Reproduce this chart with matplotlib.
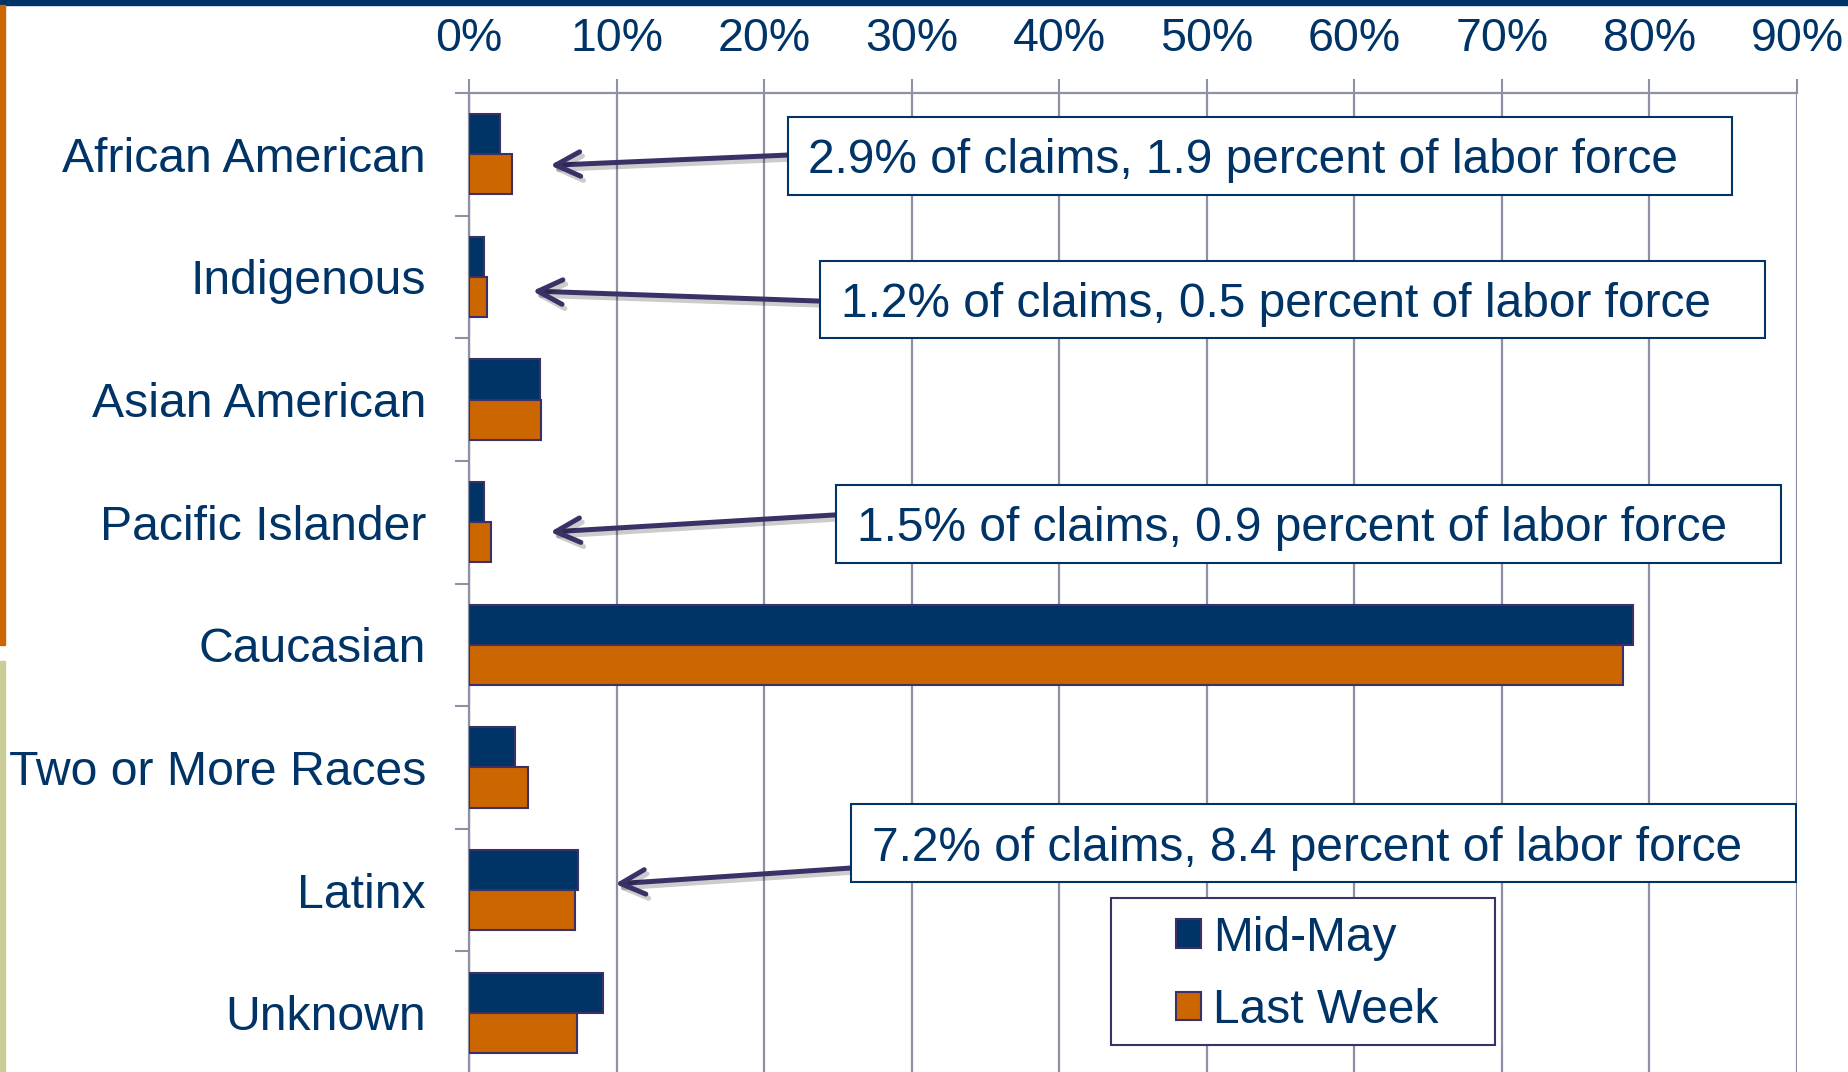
import numpy as np
import matplotlib.pyplot as plt
import matplotlib.patheffects as pe
from matplotlib.patches import Rectangle
from matplotlib.ticker import FuncFormatter

plt.rcParams['font.family'] = ['Liberation Sans', 'DejaVu Sans']

categories = ['African American', 'Indigenous', 'Asian American', 'Pacific Islander',
              'Caucasian', 'Two or More Races', 'Latinx', 'Unknown']
mid_may = [2.1, 1.0, 4.8, 1.0, 78.9, 3.1, 7.4, 9.1]
last_week = [2.9, 1.2, 4.9, 1.5, 78.2, 4.0, 7.2, 7.3]
series_names = ['Mid-May', 'Last Week']

notes = ['2.9% of claims, 1.9 percent of labor force',
         '1.2% of claims, 0.5 percent of labor force',
         '1.5% of claims, 0.9 percent of labor force',
         '7.2% of claims, 8.4 percent of labor force']
note_rows = [0, 1, 3, 6]

navy = '#003366'
orange = '#cc6600'
olive = '#cccc99'
grid_col = '#8e90a6'
edge_col = '#3b3167'
arrow_col = '#3a3166'

W, H = 1849, 1072
fig = plt.figure(figsize=(W / 100, H / 100), dpi=100)
# axes spans px 469..1797 horizontally, 93..1074 vertically
ax = fig.add_axes([469 / W, (H - 1074) / H, (1797 - 469) / W, (1074 - 93) / H])

# slide decorations
fig.patches.append(Rectangle((0, 1 - 5 / H), 1, 5 / H, transform=fig.transFigure,
                             color=navy, zorder=0))
fig.patches.append(Rectangle((0, (H - 645) / H), 5 / W, 640 / H, transform=fig.transFigure,
                             color=orange, zorder=0))
fig.patches.append(Rectangle((0, 0), 5 / W, (H - 661) / H, transform=fig.transFigure,
                             color=olive, zorder=0))

y = np.arange(len(categories))
bh = 0.327
ax.barh(y - bh / 2, mid_may, height=bh, color=navy, edgecolor=edge_col, lw=1.5,
        label=series_names[0], zorder=3)
ax.barh(y + bh / 2, last_week, height=bh, color=orange, edgecolor=edge_col, lw=1.5,
        label=series_names[1], zorder=3)

ax.set_xlim(0, 90)
ax.set_ylim(len(categories) - 0.5, -0.5)

ax.xaxis.tick_top()
ax.set_xticks(np.arange(0, 91, 10))
ax.xaxis.set_major_formatter(FuncFormatter(lambda v, p: f'{v:.0f}%'))
ax.tick_params(axis='x', length=10, width=1.5, color=grid_col, pad=13,
               labelsize=33.5, labelcolor=navy)
ax.grid(axis='x', color=grid_col, lw=1.6, zorder=0)

ax.set_yticks(np.arange(-0.5, len(categories), 1))
ax.set_yticklabels([])
ax.set_yticks(y, minor=True)
ax.set_yticklabels(categories, minor=True)
ax.tick_params(axis='y', which='major', length=10, width=1.5, color=grid_col)
ax.tick_params(axis='y', which='minor', length=0, pad=31, labelsize=34.7, labelcolor=navy)

for s in ['right', 'bottom']:
    ax.spines[s].set_visible(False)
for s in ['left', 'top']:
    ax.spines[s].set_color(grid_col)
    ax.spines[s].set_linewidth(1.6)

# callouts: (head x, head dy, box left x, box dy, tail dy)
heads_x = [5.5, 4.3, 5.5, 9.9]
heads_dy = [0.09, 0.115, 0.08, -0.05]
box_x = [21.6, 23.8, 24.9, 25.9]
box_dy = [0.014, 0.184, 0.011, -0.38]
tail_dy = [0.006, 0.197, -0.06, -0.18]
box_w = 64.0
box_h = 0.636

for k, txt in enumerate(notes):
    r = note_rows[k]
    cy = r + box_dy[k]
    ax.add_patch(Rectangle((box_x[k], cy - box_h / 2), box_w, box_h, facecolor='white',
                           edgecolor=navy, lw=1.5, zorder=5))
    ax.text(box_x[k] + 1.4, cy + 0.04, txt, ha='left', va='center', fontsize=34.5,
            color=navy, zorder=6)
    ax.annotate('', xy=(heads_x[k], r + heads_dy[k]), xytext=(box_x[k], r + tail_dy[k]),
                arrowprops=dict(arrowstyle='->', color=arrow_col, lw=3.6, mutation_scale=44,
                                shrinkA=0, shrinkB=0,
                                path_effects=[pe.SimpleLineShadow(offset=(2, -3), alpha=0.2),
                                              pe.Normal()]),
                zorder=4)

# legend with its own frame
ax.add_patch(Rectangle((0.4834, 0.0296), 0.7726 - 0.4834, 0.1794 - 0.0296,
                       transform=ax.transAxes, facecolor='white', edgecolor=edge_col,
                       lw=1.5, zorder=6))
leg = ax.legend(loc='center left', bbox_to_anchor=(0.5324, 0.1015), frameon=False,
                fontsize=34.5, handlelength=0.53, handleheight=0.53, handletextpad=0.25,
                labelspacing=0.58, borderpad=0, borderaxespad=0)
leg.set_zorder(7)
for t in leg.get_texts():
    t.set_color(navy)

fig.savefig('out.png', dpi=100)
